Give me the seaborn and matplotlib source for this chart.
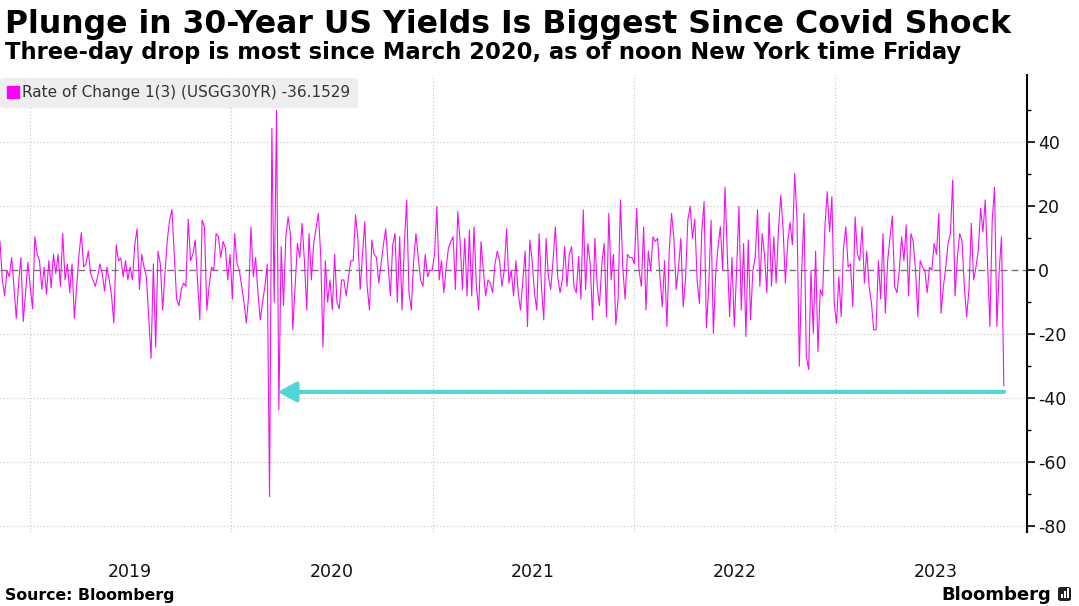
import pandas as pd
import matplotlib
matplotlib.use('Agg')
import matplotlib.pyplot as plt
from matplotlib.lines import Line2D
from matplotlib.patches import FancyBboxPatch, Rectangle
import seaborn as sns

# --- Data: 3-day rate of change of the 30Y Treasury yield (bp) ---
FIRST_DAY = '2018-11-08'
LAST_DAY = '2023-11-03'

# Nov 2018 - Apr 2019
roc_nov18_apr19 = [9, -3, -8, 0, -2, 4, -5, -15, -4, 4, -16, -7, 2.5, -5, -12, 10.5, 5, 3, -6, 1,
                   -7.5, 3, -5.5, 5, -1, 5, -5, 11.5, -3, 2, -7, 2, -15, -5, 5, 11.8, 1]
# Apr 2019 - Sep 2019
roc_apr19_sep19 = [2, 6, -1, -3, -5, -2, 2, -1, -6.5, 1, -3, -8, -16.5, 8, 3, 3.8, -2, 3, -3, 1,
                   -3, 8, 13, -6, 5, 1, -2, -15, -27.5, 2, -24, 6, 2, -12.4, -1, 9.5, 15.7]
# Sep 2019 - Feb 2020
roc_sep19_feb20 = [19, 5, -9, -11, -6, -4, -5, 16, 3, 5, 9.5, -3, -15.5, 15.7, 13.5, -12.4, -5, 1,
                   0, 11.5, 10.5, 4, 9, 7, -3, 5, -9, 11.5, 2, 0, -5, -10, -16.5, -8, 13.6, -2]
# Feb 2020 - Jul 2020 (Covid shock)
roc_feb20_jul20 = [4, -7, -15.5, -10, -5, 2, -70.7, 44.4, -10, 50, -43.6, 7.4, -11, 10.5, 16.7, 11,
                   -18.6, -5, 8.4, 4, 14.7, 3, -12.4, 11.5, -3, 8.4, 13, 17.8, 5, -24, 3, -10, -3,
                   -12.4, 5, -10, -12]
# Jul 2020 - Dec 2020
roc_jul20_dec20 = [-3, -3, -8, -2, 3, 3, 17.3, 10, -6, 5, 15.2, -5, -12.4, 9.5, 5, 4, -4, 2, 8, 13,
                   2, -8, 8, 11.5, -10, 10.5, -12.4, 8, 22, -7, -12.4, 3, 11.5, 4, -3, -5]
# Dec 2020 - May 2021
roc_dec20_may21 = [5, -2, 0, 0, 5, 20, -3, 3, -7, 1, 7, 9, 10.5, -6, 18.3, 9, -6, 10, -8, 12.6,
                   -8, 13.6, -5, -12.4, 9, 0, -8, -3, -4, -7, 2, 6, 3, -5, 0, 13, -4]
# May 2021 - Oct 2021
roc_may21_oct21 = [0, -8, 3, -7, -12.4, -3, 6, -17.6, 9.5, 3, -7, -12.4, 11.5, -5, -15.5, 10, -2,
                   -6, 3, 13.6, -2, -7, -3, 7.4, -5, 5, 7.4, -5, -7, 4.3, -9, 18.9, -6, 8.4, 2, -15.5]
# Oct 2021 - Mar 2022
roc_oct21_mar22 = [10, -5, -11, 2, 8.4, -14.5, 17.8, -3, 5, -17, -9, 22, 1, -9, 5, 4, 4, 2, 19.4, 0,
                   -5, 13.6, -12.4, 6, 0, 10.5, 9, 10, -2, -11.4, 3, -17.6, 6, 17.8, 10, -6, 1]
# Mar 2022 - Aug 2022
roc_mar22_aug22 = [10, -11.4, -3, 15.7, 20, 10, 16, -3, -10.3, 12, 21.5, -18, -5, 15.7, -19.7, -1,
                   7.4, 13.6, 0, 26, 5, -14.5, 4, -17.6, 0, 20, -12.4, 8.4, -20.7, 9.5, -15.5, 0, 4,
                   18.9, -5, 11.5]
# Aug 2022 - Jan 2023
roc_aug22_jan23 = [5, -7, 18, -5, 10.5, -4, 12.6, 23.5, 13, -4, 9, 15, 8, 30.3, 16, -30, 0, 17.8,
                   -27, -31, 0, -19.7, 6, -25.4, -6, -8, 13.6, 24.6, 12, 23, -10.3, -16.6, -2, -14.5,
                   7, 13.6, 1]
# Jan 2023 - Jul 2023
roc_jan23_jul23 = [2, -11.4, 16.7, 5, 3, 13.6, -4, 6, -5, -10, -18.6, -18.6, 3, -9, 11.5, -13.4, 3,
                   10, 17, -5, -7, 0, 10.5, 3, 14.2, -8, 11.5, 9, 0, -14.5, 3, 1, 0, -7, 1, 0, 8.4]
# Jul 2023 - Nov 3 2023
roc_jul23_nov23 = [5, 17.8, -13.4, -5, 1, 8.4, 11.5, 28.2, -8, 4, 11.5, 9.3, -5, -14.5, -6, 14.7, -3,
                   1, 6.25, 19.4, 12, 22, 2, -17.6, 15.7, 26, -17.6, 0, 10.5, -36.1529]

series_label = 'Rate of Change 1(3) (USGG30YR) -36.1529'
year_labels = ['2019', '2020', '2021', '2022', '2023']
y_major = [-80, -60, -40, -20, 0, 20, 40]
y_minor = [-70, -50, -30, -10, 10, 30, 50]

TITLE = 'Plunge in 30-Year US Yields Is Biggest Since Covid Shock'
SUBTITLE = 'Three-day drop is most since March 2020, as of noon New York time Friday'

# --- Style ---
MAGENTA = '#f210f2'
CYAN = '#4fd6d6'
GRID = '#c4c4c4'

segments = [roc_nov18_apr19, roc_apr19_sep19, roc_sep19_feb20, roc_feb20_jul20,
            roc_jul20_dec20, roc_dec20_may21, roc_may21_oct21, roc_oct21_mar22,
            roc_mar22_aug22, roc_aug22_jan23, roc_jan23_jul23, roc_jul23_nov23]
values = [v for seg in segments for v in seg]
dates = pd.date_range(FIRST_DAY, LAST_DAY, periods=len(values))
df = pd.DataFrame({'date': dates, 'roc': values})

sns.set_theme(style='white')
plt.rcParams['font.family'] = ['DejaVu Sans']
plt.rcParams['axes.unicode_minus'] = False

fig = plt.figure(figsize=(10.79, 6.06), dpi=100)
ax = fig.add_axes([0.0, 0.122, 0.9518, 0.754])

# grid first so the line sits on top
for yv in y_major:
    if yv != 0:
        ax.axhline(yv, color=GRID, lw=0.8, ls=(0, (1, 2)), zorder=0)
ax.axhline(0, color='#777777', lw=1.0, ls=(0, (5, 3)), zorder=1)
year_starts = [pd.Timestamp(f'{y}-01-01') for y in year_labels]
for d in year_starts:
    ax.axvline(d, color=GRID, lw=0.8, ls=(0, (1, 2)), zorder=0)

sns.lineplot(data=df, x='date', y='roc', ax=ax, color=MAGENTA, lw=0.8, legend=False, zorder=3)

ax.set_xlim(pd.Timestamp(FIRST_DAY), pd.Timestamp('2023-12-15'))
ax.set_ylim(-81.8, 61)
ax.set_xlabel('')
ax.set_ylabel('')

# y axis on the right
ax.yaxis.tick_right()
ax.set_yticks(y_major)
ax.set_yticks(y_minor, minor=True)
ax.tick_params(axis='y', which='major', direction='out', length=6, width=1.2,
               color='black', labelsize=12.5, pad=2, labelcolor='#111111')
ax.tick_params(axis='y', which='minor', direction='out', length=3, width=1.0,
               color='black', right=True)

# year labels centred on each year
mid_years = [pd.Timestamp(f'{y}-07-02') for y in year_labels]
ax.set_xticks(mid_years, labels=year_labels)
ax.tick_params(axis='x', length=0, labelsize=12.5, pad=22, labelcolor='#111111')

for side in ['left', 'top', 'bottom']:
    ax.spines[side].set_visible(False)
ax.spines['right'].set_color('black')
ax.spines['right'].set_linewidth(1.5)

# legend box
handle = Line2D([], [], marker='s', color='#ff00ff', ls='none', markersize=8)
leg = ax.legend([handle], [series_label], loc='upper left', bbox_to_anchor=(0.0, 0.993),
                frameon=True, facecolor='#eeeeee', edgecolor='#eeeeee', framealpha=1,
                fontsize=11, handletextpad=0.2, handlelength=0.8, borderpad=0.45,
                borderaxespad=0)
for t in leg.get_texts():
    t.set_color('#333333')

# arrow from the latest reading back to March 2020
ax.annotate('', xy=(pd.Timestamp('2020-03-26'), -38), xytext=(pd.Timestamp(LAST_DAY), -38),
            arrowprops=dict(arrowstyle='-|>,head_length=0.55,head_width=0.3', color=CYAN,
                            lw=3, shrinkA=0, shrinkB=0, mutation_scale=20), zorder=4)

# titles and footer
fig.text(0.005, 1 - 33 / 606, TITLE, fontsize=22.7, fontweight='bold', color='black', va='baseline')
fig.text(0.005, 1 - 59 / 606, SUBTITLE, fontsize=16.3, fontweight='bold', color='black', va='baseline')
fig.text(0.005, 1 - 600 / 606, 'Source: Bloomberg', fontsize=11.3, fontweight='bold',
         color='black', va='baseline')
fig.text(1051 / 1079, 1 - 600 / 606, 'Bloomberg', fontsize=13, fontweight='bold',
         color='black', va='baseline', ha='right')
# little logo square
fig.patches.append(FancyBboxPatch((1058 / 1079, 1 - 601 / 606), 13 / 1079, 14 / 606,
                                  boxstyle='round,pad=0,rounding_size=0.003',
                                  transform=fig.transFigure, facecolor='#222222',
                                  edgecolor='none'))
for i, h in enumerate([4, 7, 10]):
    fig.patches.append(Rectangle(((1061 + 3 * i) / 1079, 1 - 598 / 606), 1.6 / 1079, h / 606,
                                 transform=fig.transFigure, facecolor='white', edgecolor='none'))

fig.savefig('out.png', dpi=100)
